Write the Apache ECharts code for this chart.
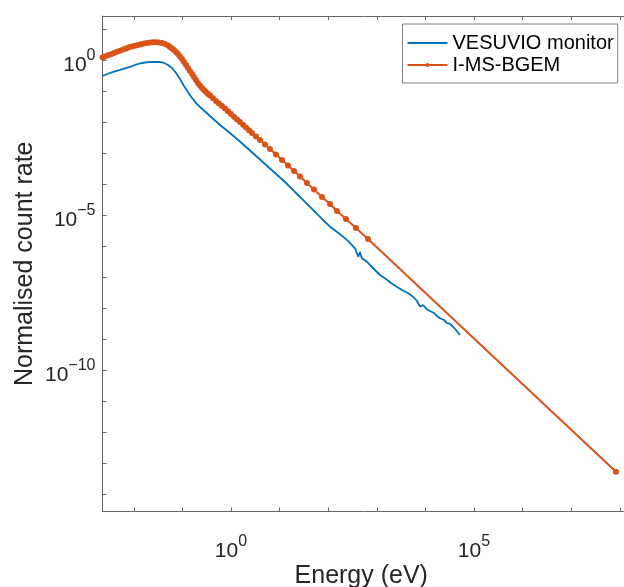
<!DOCTYPE html>
<html><head><meta charset="utf-8">
<script src="https://cdn.jsdelivr.net/npm/echarts@6/dist/echarts.min.js"></script>
<style>html,body{margin:0;padding:0;background:#fff}#c{width:624px;height:587px}</style>
</head><body><div id="c"></div>
<script>
// ---- data (energy in eV, normalised count rate) ----
const energyBlue = [2.27e-3, 2.68e-3, 3.24e-3, 4.10e-3, 5.20e-3, 6.59e-3, 8.35e-3, 1.06e-2, 1.34e-2, 1.70e-2, 2.15e-2, 2.73e-2, 3.46e-2, 4.18e-2, 5.06e-2, 6.11e-2, 7.39e-2, 8.93e-2, 0.108, 0.130, 0.158, 0.190, 0.230, 0.292, 0.370, 0.469, 0.594, 0.753, 0.954, 1.33, 1.94, 3.12, 5.01, 8.04, 12.9, 20.7, 33.3, 53.5, 78.2, 109, 152, 202, 268, 356, 391, 416, 451, 489, 629, 835, 1164, 1546, 1960, 2567, 3300, 4385, 5640, 6715, 7745, 8930, 1.06e4, 1.24e4, 1.50e4, 1.73e4, 2.0e4, 2.41e4, 2.78e4, 3.21e4, 3.75e4, 4.26e4, 5.15e4];
const rateBlue = [0.305, 0.340, 0.381, 0.426, 0.476, 0.532, 0.595, 0.690, 0.771, 0.830, 0.862, 0.875, 0.862, 0.800, 0.690, 0.552, 0.381, 0.244, 0.145, 0.0929, 0.0594, 0.0410, 0.0305, 0.0218, 0.0156, 0.0112, 8.0e-3, 5.94e-3, 4.42e-3, 2.83e-3, 1.68e-3, 8.62e-4, 4.42e-4, 2.26e-4, 1.16e-4, 5.52e-5, 2.63e-5, 1.25e-5, 6.90e-6, 4.19e-6, 2.83e-6, 2.00e-6, 1.35e-6, 8.43e-7, 7.43e-7, 4.52e-7, 6.40e-7, 4.10e-7, 3.05e-7, 1.95e-7, 1.16e-7, 8.62e-8, 6.40e-8, 4.86e-8, 3.81e-8, 3.05e-8, 2.26e-8, 1.68e-8, 1.10e-8, 1.25e-8, 9.29e-9, 8.0e-9, 6.90e-9, 5.52e-9, 4.66e-9, 4.10e-9, 3.28e-9, 3.05e-9, 2.44e-9, 1.95e-9, 1.35e-9];

const energyOrange = [2.27e-3, 2.55e-3, 2.94e-3, 3.40e-3, 3.92e-3, 4.51e-3, 5.20e-3, 6.00e-3, 6.92e-3, 7.96e-3,
  9.18e-3, 1.06e-2, 1.22e-2, 1.41e-2, 1.62e-2, 1.87e-2, 2.15e-2, 2.48e-2, 2.86e-2, 3.30e-2,
  3.80e-2, 4.39e-2, 5.06e-2, 5.56e-2, 6.11e-2, 6.72e-2, 7.39e-2, 8.12e-2, 8.93e-2, 9.81e-2,
  0.108, 0.119, 0.130, 0.143, 0.158, 0.173, 0.190, 0.209, 0.230, 0.253,
  0.278, 0.306, 0.337, 0.370, 0.427, 0.491, 0.566, 0.653, 0.753, 0.868,
  1.00, 1.15, 1.33, 1.53, 1.77, 2.04, 2.35, 2.70, 3.27, 3.95,
  5.01, 6.35, 8.43, 11.2, 14.9, 19.8, 26.3, 36.6, 51.0, 74.5,
  109, 152, 232, 373, 659, 8.35e7];
const rateOrange = [1.204, 1.297, 1.418, 1.539, 1.682, 1.839, 1.995, 2.165, 2.350, 2.569,
  2.726, 2.893, 3.047, 3.234, 3.406, 3.535, 3.668, 3.751, 3.751, 3.696,
  3.535, 3.281, 2.936, 2.627, 2.350, 2.102, 1.812, 1.561, 1.297, 1.077,
  0.862, 0.690, 0.552, 0.442, 0.353, 0.283, 0.226, 0.181, 0.150, 0.125,
  0.108, 0.0929, 0.0800, 0.0716, 0.0586, 0.0476, 0.0395, 0.0328, 0.0273, 0.0223,
  0.0181, 0.0148, 0.0120, 0.0100, 8.12e-3, 6.65e-3, 5.44e-3, 4.42e-3, 3.40e-3, 2.63e-3,
  1.88e-3, 1.35e-3, 8.95e-4, 5.94e-4, 3.95e-4, 2.63e-4, 1.75e-4, 1.08e-4, 6.65e-5, 3.81e-5,
  2.26e-5, 1.35e-5, 7.43e-6, 3.81e-6, 1.68e-6, 5.24e-14];

const seriesNames = ['VESUVIO monitor', 'I-MS-BGEM'];
const xTickExponents = [0, 5];        // labelled decades on the energy axis
const yTickExponents = [0, -5, -10];  // labelled decades on the rate axis
const xRangeExp = [-2.644, 8.19];     // axis limits as powers of ten
const yRangeExp = [-14.565, 1.419];

// ---- chart ----
const FONT = '"Liberation Sans", Arial, sans-serif';
const AX = '#666666';
const TXT = '#262626';
const toLog = (xs, ys) => xs.map((x, i) => [Math.log10(x), Math.log10(ys[i])]);

function expLabel(list) {
  return function (v) {
    const r = Math.round(v);
    if (Math.abs(v - r) > 1e-6 || list.indexOf(r) < 0) return '';
    return '{b|10}{e|' + String(r).replace('-', '\u2212') + '}';
  };
}
function richSet(expLineHeight) {
  return {
    b: { fontSize: 21, fontFamily: FONT, color: TXT, lineHeight: 28, verticalAlign: 'bottom' },
    e: { fontSize: 16, fontFamily: FONT, color: TXT, lineHeight: expLineHeight, verticalAlign: 'top' }
  };
}

const chart = echarts.init(document.getElementById('c'), null, { renderer: 'canvas' });
chart.setOption({
  animation: false,
  backgroundColor: '#ffffff',
  grid: { left: 102.5, top: 16, right: -5, bottom: 75.5, containLabel: false, outerBoundsMode: 'none' },
  legend: {
    orient: 'vertical', left: 402.5, top: 24,
    itemWidth: 40, itemHeight: 5, itemGap: 2,
    padding: [9, 4, 8, 4],
    borderColor: '#808080', borderWidth: 1, backgroundColor: '#ffffff',
    textStyle: { fontSize: 20, fontFamily: FONT, color: '#000' },
    data: [{ name: seriesNames[0], itemStyle: { opacity: 0 } }, { name: seriesNames[1] }]
  },
  xAxis: [{
    type: 'value', position: 'bottom', min: xRangeExp[0], max: xRangeExp[1], splitNumber: 11,
    axisLine: { show: true, onZero: false, lineStyle: { color: AX, width: 1 } },
    axisTick: { show: true, inside: true, length: 4, lineStyle: { color: AX } },
    axisLabel: { margin: 22, formatter: expLabel(xTickExponents), rich: richSet(16) },
    splitLine: { show: false },
    name: 'Energy (eV)', nameLocation: 'middle', nameGap: 52, nameMoveOverlap: false,
    nameTextStyle: { fontSize: 25, fontFamily: FONT, color: TXT, padding: [0, 9, 0, 0] }
  }, {
    type: 'value', position: 'top', min: xRangeExp[0], max: xRangeExp[1], splitNumber: 11,
    axisLine: { show: true, onZero: false, lineStyle: { color: AX, width: 1 } },
    axisTick: { show: true, inside: true, length: 4, lineStyle: { color: AX } },
    axisLabel: { show: false },
    splitLine: { show: false }
  }],
  yAxis: {
    type: 'value', min: yRangeExp[0], max: yRangeExp[1], splitNumber: 16,
    axisLine: { show: true, onZero: false, lineStyle: { color: AX, width: 1 } },
    axisTick: { show: true, inside: true, length: 4, lineStyle: { color: AX } },
    axisLabel: { margin: 7, padding: [3, 0, 0, 0], formatter: expLabel(yTickExponents), rich: richSet(21) },
    splitLine: { show: false },
    name: 'Normalised count rate', nameLocation: 'middle', nameGap: 65, nameMoveOverlap: false,
    nameTextStyle: { fontSize: 25, fontFamily: FONT, color: TXT }
  },
  series: [{
    name: seriesNames[0], type: 'line', xAxisIndex: 0,
    data: toLog(energyBlue, rateBlue),
    symbol: 'none', lineStyle: { color: '#0072BD', width: 1.8 }, itemStyle: { color: '#0072BD' }
  }, {
    name: seriesNames[1], type: 'line', xAxisIndex: 0,
    data: toLog(energyOrange, rateOrange),
    symbol: 'circle', symbolSize: 6, showSymbol: true,
    lineStyle: { color: '#D95319', width: 2 }, itemStyle: { color: '#D95319' }
  }]
});
</script></body></html>
